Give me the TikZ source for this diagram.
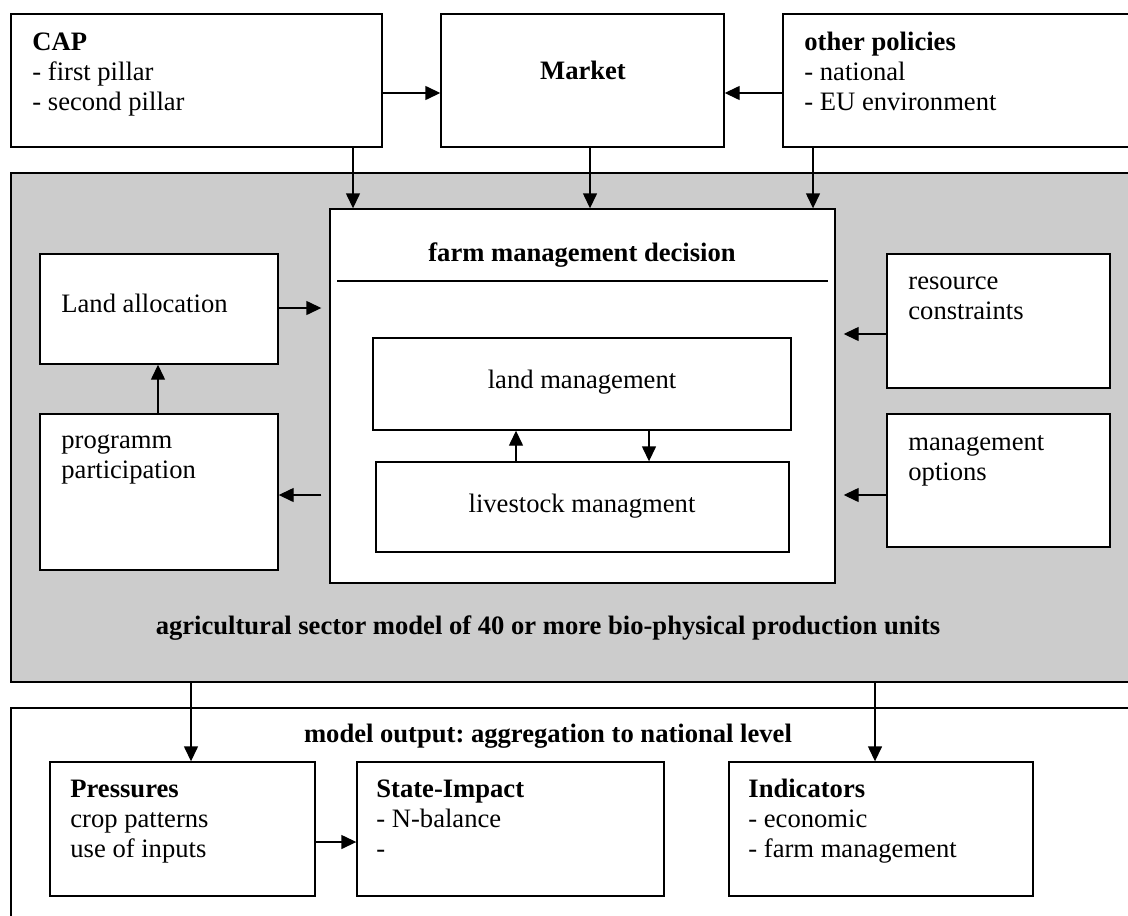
\documentclass[tikz,border=0pt]{standalone}
\usepackage{fontspec}
\setmainfont{Liberation Serif}
\usetikzlibrary{arrows.meta,fit}
\definecolor{panelgray}{RGB}{204,204,204}
\frenchspacing
\begin{document}
\begin{tikzpicture}[x=0.5pt,y=-0.5pt,
  box/.style={draw, line width=0.7pt, fill=white, inner sep=0pt},
  txt/.style={inner sep=0pt, anchor=north west, align=left, font=\fontsize{13.3}{15}\selectfont},
  ctxt/.style={inner sep=0pt, anchor=base, font=\fontsize{13.3}{15}\selectfont},
  arr/.style={line width=0.7pt, -{Triangle[length=7.5pt,width=7pt]}},
]
\useasboundingbox (0,0) rectangle (1128,915);
\clip (0,0) rectangle (1128,915);

% containers
\node[box, fill=panelgray, fit={(11,173) (1140,682)}] (sector) {};
\node[box, fit={(11,708) (1140,940)}] (output) {};
% top row
\node[box, fit={(11,14) (382,147)}] (cap) {};
\node[box, fit={(441,14) (724,147)}] (market) {};
\node[box, fit={(783,14) (1140,147)}] (other) {};
% sector content
\node[box, fit={(330,209) (835,583)}] (farm) {};
\node[box, fit={(373,338) (791,430)}] (land) {};
\node[box, fit={(376,462) (789,552)}] (live) {};
\node[box, fit={(40,254) (278,364)}] (alloc) {};
\node[box, fit={(40,414) (278,570)}] (prog) {};
\node[box, fit={(887,254) (1110,388)}] (res) {};
\node[box, fit={(887,414) (1110,547)}] (opt) {};
% outputs
\node[box, fit={(50,762) (315,896)}] (press) {};
\node[box, fit={(357,762) (664,896)}] (state) {};
\node[box, fit={(729,762) (1033,896)}] (ind) {};

% texts
\node[txt] (capT) at (32,29) {\strut\textbf{CAP}\\- first pillar\\- second pillar};
\node[ctxt] (marketT) at (583,80) {\textbf{Market}};
\node[txt] (otherT) at (804,29) {\strut\textbf{other policies}\\- national\\- EU environment};
\node[ctxt] (farmT) at (582,261) {\textbf{farm management decision}};
\draw[line width=0.7pt] (337,281) -- (828,281);
\node[ctxt] (landT) at (582,388) {land management};
\node[ctxt] (liveT) at (582,512) {livestock managment};
\node[txt] (allocT) at (61,291) {\strut Land allocation};
\node[txt] (progT) at (61,427) {\strut programm\\participation};
\node[txt] (resT) at (908,268) {\strut resource\\constraints};
\node[txt] (optT) at (908,429) {\strut management\\options};
\node[ctxt] (sectorT) at (548,634) {\textbf{agricultural sector model of 40 or more bio-physical production units}};
\node[ctxt] (outputT) at (548,742) {\textbf{model output: aggregation to national level}};
\node[txt] (pressT) at (70,776) {\strut\textbf{Pressures}\\crop patterns\\use of inputs};
\node[txt] (stateT) at (376,776) {\strut\textbf{State-Impact}\\- N-balance\\-};
\node[txt] (indT) at (748,776) {\strut\textbf{Indicators}\\- economic\\- farm management};

% connectors
\coordinate (yTop) at (0,93);
\coordinate (yAl) at (0,308);
\coordinate (yPr) at (0,495);
\coordinate (yRe) at (0,334);
\coordinate (yPS) at (0,842);
\coordinate (xCap) at (353,0);
\coordinate (xMk) at (590,0);
\coordinate (xOt) at (813,0);
\coordinate (xUp) at (158,0);
\coordinate (xL1) at (516,0);
\coordinate (xL2) at (649,0);
\coordinate (xO1) at (191,0);
\coordinate (xO2) at (875,0);

\draw[arr] (cap.east |- yTop) -- (market.west |- yTop);
\draw[arr] (other.west |- yTop) -- (market.east |- yTop);
\draw[arr] (xCap |- cap.south) -- (xCap |- farm.north);
\draw[arr] (xMk |- market.south) -- (xMk |- farm.north);
\draw[arr] (xOt |- other.south) -- (xOt |- farm.north);
\draw[arr, shorten >=4pt] (alloc.east |- yAl) -- (farm.west |- yAl);
\draw[arr, shorten <=4pt] (farm.west |- yPr) -- (prog.east |- yPr);
\draw[arr] (xUp |- prog.north) -- (xUp |- alloc.south);
\draw[arr, shorten >=4pt] (res.west |- yRe) -- (farm.east |- yRe);
\draw[arr, shorten >=4pt] (opt.west |- yPr) -- (farm.east |- yPr);
\draw[arr] (xL1 |- live.north) -- (xL1 |- land.south);
\draw[arr] (xL2 |- land.south) -- (xL2 |- live.north);
\draw[arr] (xO1 |- sector.south) -- (xO1 |- press.north);
\draw[arr] (xO2 |- sector.south) -- (xO2 |- ind.north);
\draw[arr] (press.east |- yPS) -- (state.west |- yPS);
\end{tikzpicture}
\end{document}
